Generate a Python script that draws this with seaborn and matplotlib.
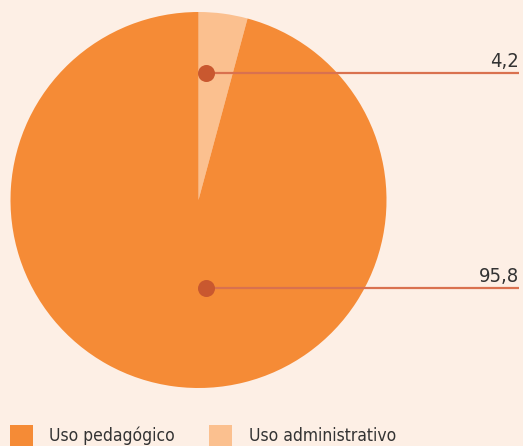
import matplotlib
matplotlib.use("Agg")
import matplotlib.pyplot as plt
from matplotlib.patches import Rectangle
import seaborn as sns

categories = ["Uso administrativo", "Uso pedagógico"]
values = [4.2, 95.8]
value_labels = ["4,2", "95,8"]
legend_order = ["Uso pedagógico", "Uso administrativo"]

BG = "#fdefe5"
ORANGE = "#f58b36"
LIGHT = "#fbc08f"
DOT = "#c9582f"
LINE = "#d9714f"
TEXT = "#333333"

sns.set_theme(style="white")
plt.rcParams["font.family"] = ["DejaVu Sans"]
plt.rcParams["font.stretch"] = "condensed"

W, H = 523, 446
fig = plt.figure(figsize=(W / 100, H / 100), dpi=100, facecolor=BG)

cx, cy, r = 198.5, 200, 188
ax = fig.add_axes([(cx - r) / W, (H - cy - r) / H, 2 * r / W, 2 * r / H])
ax.set_facecolor(BG)
colors = {"Uso administrativo": LIGHT, "Uso pedagógico": ORANGE}
wedges, _ = ax.pie(values, colors=[colors[c] for c in categories], startangle=90,
                   counterclock=False, radius=1,
                   wedgeprops=dict(linewidth=0, antialiased=True))
ax.set_xlim(-1, 1)
ax.set_ylim(-1, 1)
ax.set_aspect("equal")
ax.axis("off")

# leader dots and lines
x_end = (519 - cx) / r
dot_x = (206 - cx) / r
dot_ys = [(cy - 73) / r, (cy - 288) / r]
for lab, dy in zip(value_labels, dot_ys):
    ax.plot([dot_x, x_end], [dy, dy], color=LINE, lw=1.6, clip_on=False,
            solid_capstyle="butt", zorder=3)
    ax.scatter([dot_x], [dy], s=150, color=DOT, zorder=4, clip_on=False,
               linewidths=0)
    ax.text(x_end, dy + 6 / r, lab, ha="right", va="baseline", fontsize=14.5,
            color=TEXT, clip_on=False)

# legend: swatch + label pairs along the bottom edge
swatch_x = [10, 209]
text_x = [49, 249]
for name, sx, tx in zip(legend_order, swatch_x, text_x):
    fig.patches.append(Rectangle((sx / W, 0), 23 / W, (H - 425) / H,
                                 transform=fig.transFigure,
                                 facecolor=colors[name], edgecolor="none"))
    fig.text(tx / W, (H - 441) / H, name, ha="left", va="baseline",
             fontsize=12.5, color=TEXT)

fig.savefig("out.png", dpi=100, facecolor=BG)
